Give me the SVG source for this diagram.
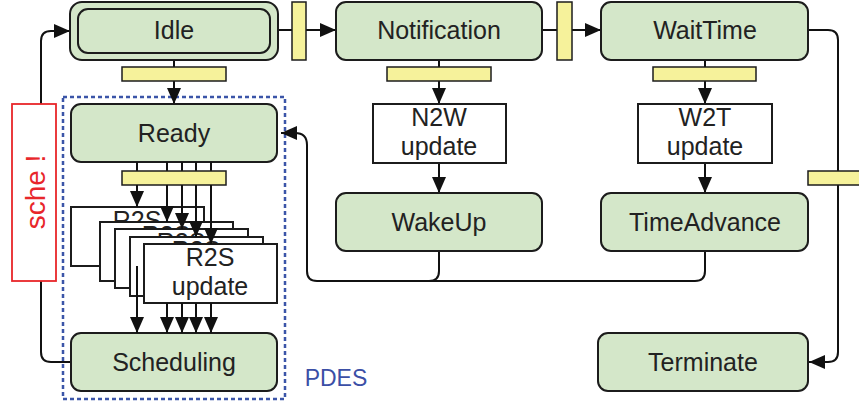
<svg xmlns="http://www.w3.org/2000/svg" width="859" height="404" viewBox="0 0 859 404">
  <style>
    .state { fill: #d4e7c9; stroke: #1c1c1c; stroke-width: 2; }
    .upd { fill: #ffffff; stroke: #1c1c1c; stroke-width: 2; }
    .bar { fill: #f6f29b; stroke: #1c1c1c; stroke-width: 1.5; }
    .lbl { font-family: "Liberation Sans", Arial, sans-serif; font-size: 25px; fill: #222; text-anchor: middle; }
    .wire { fill: none; stroke: #111; stroke-width: 2; }
    .arr { marker-end: url(#head); }
  </style>
  <defs>
    <marker id="head" viewBox="0 0 16 14" refX="16" refY="7" markerWidth="16" markerHeight="14" markerUnits="userSpaceOnUse" orient="auto">
      <path d="M0,0 L16,7 L0,14 Z" fill="#111"/>
    </marker>
  </defs>

  <rect width="859" height="404" fill="#ffffff"/>

  <!-- PDES region -->
  <g id="pdes">
    <rect x="63" y="97" width="222" height="302" fill="none" stroke="#3b55a8" stroke-width="2.5" stroke-dasharray="4 3"/>
    <text x="336" y="386" style="font-family: 'Liberation Sans', Arial, sans-serif; font-size: 23px; fill: #3b4fa6; text-anchor: middle;">PDES</text>
  </g>

  <!-- connectors -->
  <g id="connectors">
    <!-- Idle -> Notification -> WaitTime -->
    <path class="wire arr" d="M278,30 L336,30"/>
    <path class="wire arr" d="M542,30 L601,30"/>
    <!-- WaitTime -> Terminate -->
    <path class="wire arr" d="M808,30 L828,30 Q838,30 838,40 L838,352 Q838,362 828,362 L809,362"/>
    <!-- vertical flows -->
    <path class="wire arr" d="M174,60 L174,104"/>
    <path class="wire arr" d="M439,60 L439,104"/>
    <path class="wire arr" d="M439,163 L439,193"/>
    <path class="wire arr" d="M705,60 L705,104"/>
    <path class="wire arr" d="M705,163 L705,193"/>
    <!-- WakeUp / TimeAdvance -> Ready -->
    <path class="wire" d="M439,251 L439,271 Q439,281 429,281"/>
    <path class="wire arr" d="M705,251 L705,271 Q705,281 695,281 L317,281 Q307,281 307,271 L307,145 Q307,133 295,133 L281,133"/>
    <!-- Scheduling -> Idle -->
    <path class="wire arr" d="M71,362 L51,362 Q41,362 41,352 L41,41 Q41,31 51,31 L70,31"/>
  </g>

  <!-- sche ! marker -->
  <g id="sche">
    <rect x="12" y="104" width="44" height="177" fill="#ffffff" stroke="#e8262a" stroke-width="1.8"/>
    <text transform="translate(45,192) rotate(-90)" style="font-family: 'Liberation Sans', Arial, sans-serif; font-size: 28px; fill: #e8262a; text-anchor: middle;">sche !</text>
  </g>

  <!-- guard bars -->
  <g id="bars">
    <rect class="bar" x="292" y="2" width="14" height="58"/>
    <rect class="bar" x="557" y="2" width="15" height="58"/>
    <rect class="bar" x="122" y="67" width="104" height="14"/>
    <rect class="bar" x="387" y="67" width="104" height="14"/>
    <rect class="bar" x="653" y="67" width="103" height="14"/>
    <rect class="bar" x="808" y="171" width="56" height="14"/>
  </g>

  <g id="idle">
    <rect class="state" x="70" y="2" width="208" height="58" rx="12"/>
    <rect class="state" x="78" y="9" width="192" height="44" rx="10"/>
    <text class="lbl" x="174" y="39">Idle</text>
  </g>
  <g id="notification">
    <rect class="state" x="336" y="2" width="206" height="58" rx="10"/>
    <text class="lbl" x="439" y="39">Notification</text>
  </g>
  <g id="waittime">
    <rect class="state" x="601" y="2" width="207" height="58" rx="10"/>
    <text class="lbl" x="705" y="39">WaitTime</text>
  </g>
  <g id="ready">
    <rect class="state" x="71" y="104" width="206" height="58" rx="10"/>
    <text class="lbl" x="174" y="142">Ready</text>
  </g>
  <g id="n2w">
    <rect class="upd" x="373" y="104" width="133" height="59"/>
    <text class="lbl" x="439" y="126">N2W</text>
    <text class="lbl" x="439" y="155">update</text>
  </g>
  <g id="w2t">
    <rect class="upd" x="638" y="104" width="134" height="59"/>
    <text class="lbl" x="705" y="126">W2T</text>
    <text class="lbl" x="705" y="155">update</text>
  </g>
  <g id="wakeup">
    <rect class="state" x="336" y="193" width="206" height="58" rx="10"/>
    <text class="lbl" x="439" y="231">WakeUp</text>
  </g>
  <g id="timeadvance">
    <rect class="state" x="601" y="193" width="207" height="58" rx="10"/>
    <text class="lbl" x="705" y="231">TimeAdvance</text>
  </g>
  <g id="terminate">
    <rect class="state" x="598" y="333" width="210" height="58" rx="10"/>
    <text class="lbl" x="703" y="371">Terminate</text>
  </g>
  <g id="scheduling">
    <rect class="state" x="71" y="333" width="206" height="58" rx="10"/>
    <text class="lbl" x="174" y="371">Scheduling</text>
  </g>

  <!-- Ready -> R2S bar -->
  <g id="r2s-bar">
    <path class="wire" d="M137,162 L137,171 M167,162 L167,171 M182,162 L182,171 M196,162 L196,171 M211,162 L211,171"/>
    <rect class="bar" x="122" y="171" width="104" height="14"/>
  </g>

  <!-- stacked R2S update boxes -->
  <g id="r2s-1">
    <rect class="upd" x="71" y="207" width="133" height="59"/>
    <text class="lbl" x="137" y="229">R2S</text>
    <text class="lbl" x="137" y="258">update</text>
  </g>
  <g id="r2s-2">
    <rect class="upd" x="100" y="222" width="133" height="59"/>
    <text class="lbl" x="166" y="244">R2S</text>
    <text class="lbl" x="166" y="273">update</text>
  </g>
  <g id="r2s-3">
    <rect class="upd" x="115" y="229" width="133" height="59"/>
    <text class="lbl" x="181" y="251">R2S</text>
    <text class="lbl" x="181" y="280">update</text>
  </g>
  <g id="r2s-4">
    <rect class="upd" x="130" y="237" width="133" height="59"/>
    <text class="lbl" x="196" y="259">R2S</text>
    <text class="lbl" x="196" y="288">update</text>
  </g>
  <g id="r2s-5">
    <rect class="upd" x="144" y="244" width="133" height="59"/>
    <text class="lbl" x="210" y="266">R2S</text>
    <text class="lbl" x="210" y="295">update</text>
  </g>

  <!-- R2S fan-out / fan-in -->
  <g id="r2s-connectors">
    <path class="wire arr" d="M137,185 L137,207"/>
    <path class="wire arr" d="M167,185 L167,222"/>
    <path class="wire arr" d="M182,185 L182,229"/>
    <path class="wire arr" d="M196,185 L196,237"/>
    <path class="wire arr" d="M211,185 L211,244"/>
    <path class="wire arr" d="M137,266 L137,333"/>
    <path class="wire arr" d="M167,303 L167,333"/>
    <path class="wire arr" d="M182,303 L182,333"/>
    <path class="wire arr" d="M196,303 L196,333"/>
    <path class="wire arr" d="M211,303 L211,333"/>
  </g>
</svg>
